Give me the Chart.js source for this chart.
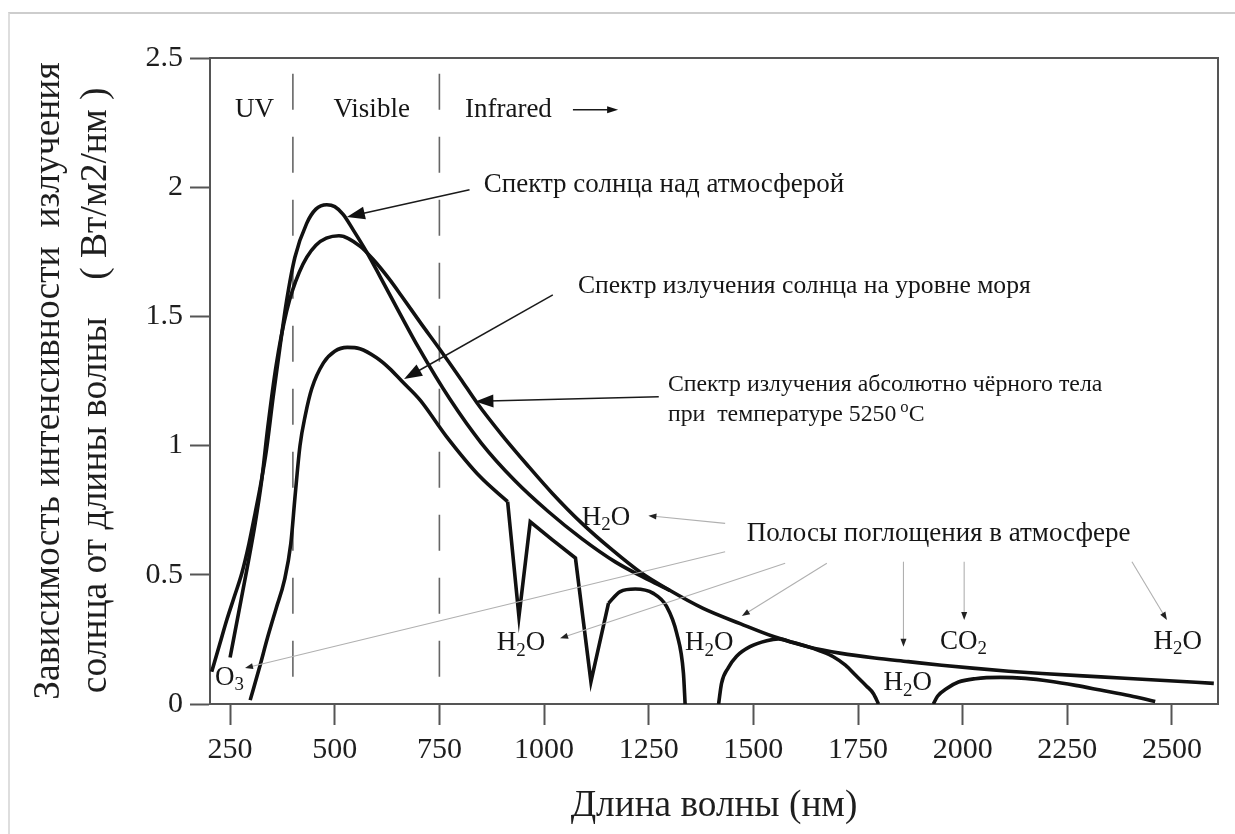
<!DOCTYPE html>
<html><head><meta charset="utf-8">
<script src="https://cdn.jsdelivr.net/npm/chart.js@4.4.1/dist/chart.umd.min.js"></script>
<style>
html,body{margin:0;padding:0;background:#fff;}
#wrap{position:relative;width:1235px;height:834px;overflow:hidden;}
#frame{position:absolute;left:8px;top:12px;width:1300px;height:900px;border-top:2px solid #cdcdcd;border-left:2px solid #dedede;}
canvas{position:absolute;left:0;top:0;}
</style></head><body>
<div id="wrap"><div id="frame"></div><canvas id="c" width="1235" height="834"></canvas></div>
<script>
// ---- tick values ----
const xTicks = [250, 500, 750, 1000, 1250, 1500, 1750, 2000, 2250, 2500];
const yTicks = [0, 0.5, 1, 1.5, 2, 2.5];

// ---- spectrum above the atmosphere ----
const aboveWl  = [206, 225, 242, 260, 278, 295, 310, 325, 337, 353, 369, 385, 405, 433, 455, 481, 500, 520, 544, 576, 608, 656, 700, 775, 850, 930, 1010, 1090, 1170, 1250, 1300];
const aboveVal = [0.125, 0.23, 0.325, 0.415, 0.506, 0.62, 0.74, 0.867, 0.985, 1.19, 1.38, 1.56, 1.73, 1.86, 1.915, 1.932, 1.925, 1.895, 1.835, 1.75, 1.655, 1.51, 1.38, 1.18, 1.01, 0.865, 0.745, 0.64, 0.55, 0.48, 0.44];

// ---- black body 5250 °C ----
const bbWl  = [250, 270, 290, 310, 325, 340, 360, 385, 415, 455, 510, 560, 592, 630, 660, 705, 750, 800, 840, 900, 960, 1020, 1090, 1160, 1230, 1300, 1380, 1470, 1550, 1630, 1710, 1790, 1870, 1950, 2030, 2110, 2190, 2330, 2450, 2600];
const bbVal = [0.18, 0.35, 0.52, 0.70, 0.86, 1.07, 1.31, 1.52, 1.67, 1.775, 1.812, 1.772, 1.72, 1.645, 1.578, 1.475, 1.375, 1.26, 1.165, 1.04, 0.925, 0.815, 0.70, 0.60, 0.51, 0.44, 0.37, 0.31, 0.26, 0.222, 0.196, 0.178, 0.164, 0.15, 0.138, 0.127, 0.118, 0.105, 0.094, 0.08];

// ---- sea level spectrum (pieces) ----
const seaAWl  = [298, 320, 340, 360, 380, 395, 405, 417, 430, 445, 473, 500, 530, 560, 600, 630, 660, 704, 767, 847, 913];
const seaAVal = [0.015, 0.14, 0.26, 0.37, 0.48, 0.62, 0.80, 1.0, 1.12, 1.22, 1.32, 1.365, 1.38, 1.375, 1.34, 1.30, 1.25, 1.176, 1.035, 0.88, 0.783];
const seaBWl  = [913, 940, 967, 1020, 1075, 1112, 1154];
const seaBVal = [0.783, 0.338, 0.705, 0.635, 0.565, 0.086, 0.39];
const seaCWl  = [1154, 1182, 1218, 1261, 1293, 1317, 1333, 1337];
const seaCVal = [0.39, 0.435, 0.445, 0.428, 0.377, 0.273, 0.119, 0];
const seaDWl  = [1417, 1424, 1440, 1460, 1492, 1532, 1560, 1590, 1630, 1660, 1691, 1720, 1745, 1770, 1787, 1799];
const seaDVal = [0, 0.08, 0.14, 0.185, 0.222, 0.245, 0.252, 0.24, 0.222, 0.205, 0.183, 0.15, 0.11, 0.07, 0.04, 0];
const seaEWl  = [1930, 1940, 1962, 1990, 2030, 2090, 2150, 2209, 2270, 2329, 2400, 2460];
const seaEVal = [0, 0.03, 0.06, 0.085, 0.098, 0.103, 0.099, 0.088, 0.072, 0.054, 0.032, 0.01];

// ---- region boundaries (UV / Visible / Infrared) ----
const boundaryWl = [400, 750];
const boundarySpan = [0.105, 2.465];

const pts = (xs, ys) => xs.map((v, i) => ({x: v, y: ys[i]}));

const curve = (data, smooth) => ({
  data, borderColor: '#111', borderWidth: 3.6, pointRadius: 0,
  fill: false, tension: 0,
  cubicInterpolationMode: smooth ? 'monotone' : 'default',
  borderJoinStyle: 'miter', borderCapStyle: 'butt'
});

const datasets = [
  curve(pts(bbWl, bbVal), true),
  curve(pts(aboveWl, aboveVal), true),
  curve(pts(seaAWl, seaAVal), true),
  curve(pts(seaBWl, seaBVal), false),
  curve(pts(seaCWl, seaCVal), true),
  curve(pts(seaDWl, seaDVal), true),
  curve(pts(seaEWl, seaEVal), true),
];
boundaryWl.forEach(w => datasets.push({
  data: boundarySpan.map(v => ({x: w, y: v})),
  borderColor: '#666', borderWidth: 1.6, borderDash: [36, 27], pointRadius: 0, fill: false
}));

// ---- annotations (data coordinates) ----
const H2O = [{t: 'H'}, {t: '2', sub: true}, {t: 'O'}];
const notes = [
  {x: 262, y: 2.30, runs: [{t: 'UV'}]},
  {x: 497, y: 2.30, runs: [{t: 'Visible'}]},
  {x: 811, y: 2.30, runs: [{t: 'Infrared'}]},
  {x: 856, y: 2.01, runs: [{t: 'Спектр солнца над атмосферой'}]},
  {x: 1081, y: 1.615, size: 25.6, runs: [{t: 'Спектр излучения солнца на уровне моря'}]},
  {x: 1296, y: 1.235, size: 23.8, runs: [{t: 'Спектр излучения абсолютно чёрного тела'}]},
  {x: 1296, y: 1.118, size: 23.8, runs: [{t: 'при  температуре 5250'}, {t: 'o', sup: true, pad: 4}, {t: 'C'}]},
  {x: 1090, y: 0.719, runs: H2O},
  {x: 1484, y: 0.66, runs: [{t: 'Полосы поглощения в атмосфере'}]},
  {x: 214, y: 0.10, runs: [{t: 'O'}, {t: '3', sub: true}]},
  {x: 887, y: 0.235, runs: H2O},
  {x: 1337, y: 0.235, runs: H2O},
  {x: 1811, y: 0.08, runs: H2O},
  {x: 1946, y: 0.241, runs: [{t: 'CO'}, {t: '2', sub: true}]},
  {x: 2456, y: 0.241, runs: H2O},
];
const mainArrows = [
  {from: [822, 1.99], to: [529, 1.885]},
  {from: [1021, 1.583], to: [665.6, 1.258]},
  {from: [1274, 1.189], to: [836, 1.171]},
];
const irArrow = {from: [1069, 2.30], to: [1177, 2.30]};
const grayArrows = [
  {from: [1432.6, 0.699], to: [1249.3, 0.729]},
  {from: [1432.6, 0.589], to: [285.6, 0.139]},
  {from: [1576, 0.5445], to: [1038.3, 0.254]},
  {from: [1675.6, 0.5445], to: [1472.5, 0.3406]},
  {from: [1858.6, 0.5507], to: [1858.6, 0.2217]},
  {from: [2003.6, 0.5507], to: [2003.6, 0.325]},
  {from: [2404.4, 0.5507], to: [2488, 0.325]},
];

const FONT = '"Liberation Serif", "Times New Roman", serif';
const NOTE_SIZE = 27;

function drawArrow(ctx, x1, y1, x2, y2, o) {
  const a = Math.atan2(y2 - y1, x2 - x1);
  const c = Math.cos(a), s = Math.sin(a);
  ctx.strokeStyle = o.color; ctx.lineWidth = o.width;
  ctx.beginPath(); ctx.moveTo(x1, y1);
  ctx.lineTo(x2 - c * o.len * 0.7, y2 - s * o.len * 0.7); ctx.stroke();
  ctx.fillStyle = o.head;
  ctx.beginPath(); ctx.moveTo(x2, y2);
  ctx.lineTo(x2 - o.len * c + o.hw / 2 * s, y2 - o.len * s - o.hw / 2 * c);
  ctx.lineTo(x2 - o.len * c - o.hw / 2 * s, y2 - o.len * s + o.hw / 2 * c);
  ctx.closePath(); ctx.fill();
}

function drawRuns(ctx, x0, yc, runs, size) {
  let x = x0;
  ctx.textBaseline = 'middle'; ctx.textAlign = 'left'; ctx.fillStyle = '#161616';
  for (const r of runs) {
    const small = r.sub || r.sup;
    const sz = small ? size * 0.7 : size;
    ctx.font = sz + 'px ' + FONT;
    const dy = r.sub ? size * 0.27 : (r.sup ? -size * 0.3 : 0);
    x += r.pad || 0;
    ctx.fillText(r.t, x, yc + dy);
    x += ctx.measureText(r.t).width;
  }
}

const overlay = {
  id: 'overlay',
  afterDatasetsDraw(chart) {
    const {ctx, chartArea: a, scales: {x, y}} = chart;
    const P = p => [x.getPixelForValue(p[0]), y.getPixelForValue(p[1])];
    ctx.save();
    ctx.strokeStyle = '#555'; ctx.lineWidth = 2;
    ctx.beginPath(); ctx.moveTo(a.left, a.top); ctx.lineTo(a.right, a.top); ctx.lineTo(a.right, a.bottom); ctx.stroke();
    grayArrows.forEach(g => {
      const [x1, y1] = P(g.from), [x2, y2] = P(g.to);
      drawArrow(ctx, x1, y1, x2, y2, {color: '#b0b0b0', width: 1.1, head: '#222', len: 8, hw: 6});
    });
    mainArrows.forEach(m => {
      const [x1, y1] = P(m.from), [x2, y2] = P(m.to);
      drawArrow(ctx, x1, y1, x2, y2, {color: '#1a1a1a', width: 1.5, head: '#111', len: 18, hw: 13});
    });
    {
      const [x1, y1] = P(irArrow.from), [x2, y2] = P(irArrow.to);
      drawArrow(ctx, x1, y1, x2, y2, {color: '#1a1a1a', width: 1.6, head: '#111', len: 11, hw: 7});
    }
    notes.forEach(n => {
      const [px, py] = P([n.x, n.y]);
      drawRuns(ctx, px, py, n.runs, n.size || NOTE_SIZE);
    });
    ctx.restore();
  }
};

new Chart(document.getElementById('c'), {
  type: 'line',
  data: {datasets},
  plugins: [overlay],
  options: {
    responsive: false, animation: false, devicePixelRatio: 1,
    layout: {padding: {left: 26, top: 58, right: 17, bottom: 0}},
    plugins: {legend: {display: false}, tooltip: {enabled: false}},
    scales: {
      x: {
        type: 'linear', min: 202, max: 2610,
        afterBuildTicks: s => { s.ticks = xTicks.map(v => ({value: v})); },
        afterFit: s => { s.height = 130; },
        border: {display: true, color: '#555', width: 2},
        grid: {display: true, drawOnChartArea: false, drawTicks: true, tickLength: 21, tickColor: '#555', tickWidth: 2},
        ticks: {font: {family: FONT, size: 30}, color: '#1e1e1e', padding: 7, maxRotation: 0, autoSkip: false, callback: v => String(v)},
        title: {display: true, text: 'Длина волны (нм)', color: '#1e1e1e', font: {family: FONT, size: 37.3, lineHeight: 1.2}, padding: {top: 0, bottom: 5}}
      },
      y: {
        type: 'linear', min: 0, max: 2.5,
        afterBuildTicks: s => { s.ticks = yTicks.map(v => ({value: v})); },
        afterFit: s => { s.width = 184; },
        border: {display: true, color: '#555', width: 2},
        grid: {display: true, drawOnChartArea: false, drawTicks: true, tickLength: 20, tickColor: '#555', tickWidth: 2},
        ticks: {font: {family: FONT, size: 30}, color: '#1e1e1e', padding: 7, callback: v => String(v)},
        title: {display: true, text: ['Зависимость интенсивности  излучения', 'солнца от длины волны    ( Вт/м2/нм )  '], color: '#1e1e1e', font: {family: FONT, size: 37.5, lineHeight: 1.253}, padding: {top: 0, bottom: 0}}
      }
    }
  }
});
</script>
</body></html>
